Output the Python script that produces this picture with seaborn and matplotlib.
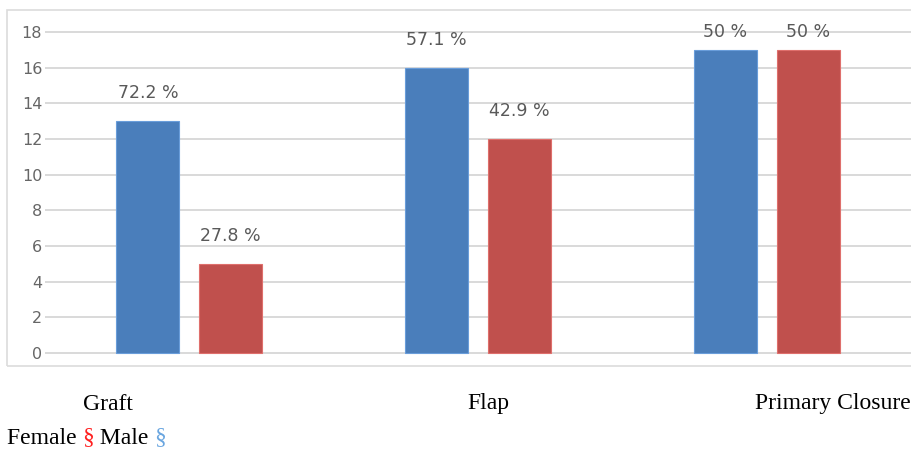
import matplotlib
matplotlib.use("Agg")
import matplotlib.pyplot as plt
from matplotlib.patches import Rectangle
import seaborn as sns
import pandas as pd

# Counts of patients per reconstruction type, split by sex
categories = ["Graft", "Flap", "Primary Closure"]
male_counts = [13, 16, 17]
female_counts = [5, 12, 17]
sexes = ["Male", "Female"]
y_ticks = [0, 2, 4, 6, 8, 10, 12, 14, 16, 18]

MALE_COLOR = "#4a7ebb"
FEMALE_COLOR = "#c0504d"
GRID_COLOR = "#d9d9d9"
TEXT_GRAY = "#595959"

rows = []
for cat, m, f in zip(categories, male_counts, female_counts):
    total = m + f
    rows.append({"category": cat, "sex": "Male", "count": m, "share": m / total * 100})
    rows.append({"category": cat, "sex": "Female", "count": f, "share": f / total * 100})
df = pd.DataFrame(rows)

sns.set_style("white")
plt.rcParams["font.family"] = ["DejaVu Sans"]

fig = plt.figure(figsize=(9.11, 4.53), dpi=100)
W, H = 911, 453

# panel frame around the chart area
fig.patches.append(Rectangle((7 / W, 1 - 366 / H), 910 / W, 356 / H,
                             transform=fig.transFigure, fill=False,
                             edgecolor="#dcdcdc", linewidth=1.2))

ax = fig.add_axes([45 / W, 1 - 360 / H, 866 / W, 342 / H])
ax.set_facecolor("none")

sns.barplot(data=df, x="category", y="count", hue="sex", order=categories,
            hue_order=sexes, palette=[MALE_COLOR, FEMALE_COLOR],
            width=0.574, gap=0.24, ax=ax, legend=False, saturation=1,
            linewidth=0.8, edgecolor="none")

# thin lighter rims on the bars
for patch in ax.patches:
    fc = patch.get_facecolor()
    patch.set_edgecolor(tuple(min(1, c + 0.12) for c in fc[:3]) + (1,))

ax.set_xlim(-0.5, 2.5)
ax.set_ylim(-0.39, 18.79)
ax.set_yticks(y_ticks)
ax.set_yticklabels([str(t) for t in y_ticks], color="#666666", fontsize=11.5)
ax.tick_params(axis="y", length=0, pad=2)
ax.set_xticks([])
ax.set_xlabel("")
ax.set_ylabel("")
for s in ax.spines.values():
    s.set_visible(False)
ax.yaxis.grid(True, color=GRID_COLOR, linewidth=1.4)
ax.set_axisbelow(True)

# percentage labels above each bar, kept inside the top of the plot area
label_gap_px = 28
top_limit = 18.03
for container, sex in zip(ax.containers, sexes):
    sub = df[df["sex"] == sex].set_index("category").loc[categories]
    labels = [f"{round(v, 1):g} %" for v in sub["share"]]
    for bar, text in zip(container, labels):
        h = bar.get_height()
        xc = bar.get_x() + bar.get_width() / 2
        top_px = ax.transData.transform((0, h))[1]
        cap_px = ax.transData.transform((0, top_limit))[1]
        center_px = min(top_px + label_gap_px, cap_px)
        ax.annotate(text, xy=(xc, h), xytext=(0, (center_px - top_px) * 72 / fig.dpi),
                    textcoords="offset points", ha="center", va="center",
                    color=TEXT_GRAY, fontsize=12.5)

# category captions below the panel
serif = ["Liberation Serif", "DejaVu Serif"]
for name, xpix in zip(categories, [108, 488, 833]):
    fig.text(xpix / W, 1 - 404 / H, name, ha="center", va="center",
             fontsize=17, family=serif, color="black")

# key line: Female (red) and Male (blue)
y_key = 1 - 438 / H
parts = [("Female ", "black"), ("§", "#ff2020"), (" Male ", "black"), ("§", "#6aa6e0")]
x = 7 / W
renderer = fig.canvas.get_renderer()
for txt, col in parts:
    t = fig.text(x, y_key, txt, ha="left", va="center", fontsize=17,
                 family=serif, color=col)
    bb = t.get_window_extent(renderer=renderer)
    x += bb.width / W

fig.savefig("out.png", dpi=100)
